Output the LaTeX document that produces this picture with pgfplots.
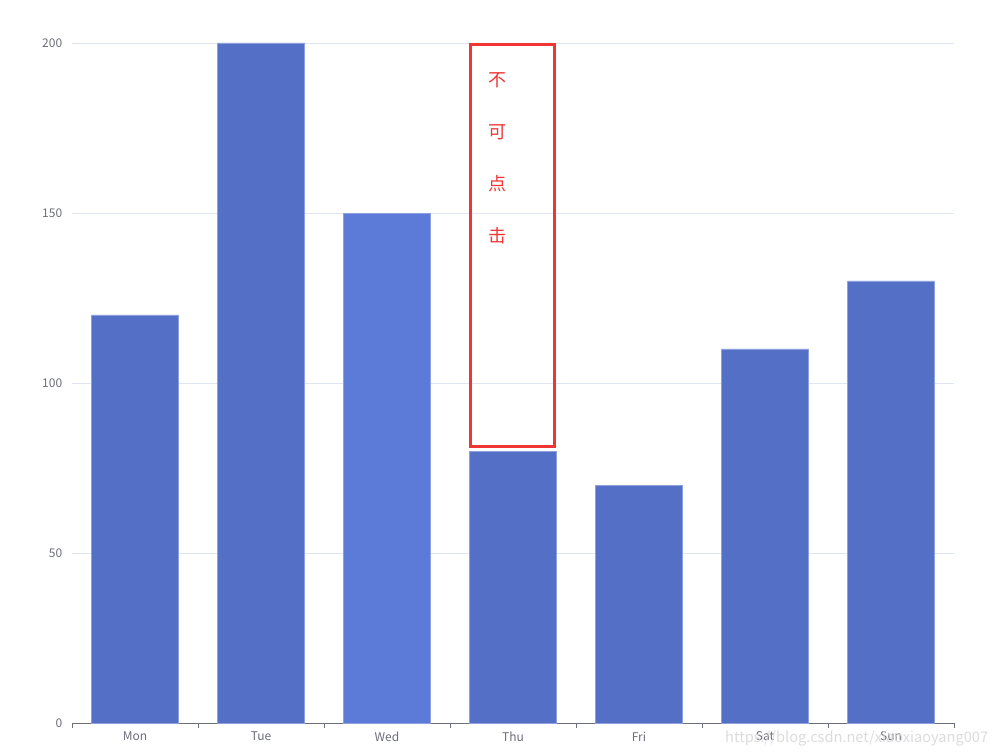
\documentclass[border=0pt]{standalone}
\usepackage{pgfplots}
\pgfplotsset{compat=1.18}
\usepackage{fontspec}
\setmainfont{Noto Sans CJK SC}
\definecolor{barc}{HTML}{5470C6}
\definecolor{barw}{HTML}{5C7AD7}
\definecolor{baredge}{HTML}{8EA0E0}
\definecolor{gridc}{HTML}{E0E6F1}
\definecolor{labc}{HTML}{6E7079}
\definecolor{boxred}{HTML}{F03535}
\begin{document}
\begin{tikzpicture}[x=1pt,y=1pt]
\path[use as bounding box, fill=white] (0,0) rectangle (1001,753);
\begin{axis}[
  at={(72pt,30pt)}, anchor=south west,
  scale only axis, width=882pt, height=680pt,
  xmin=-0.5, xmax=6.5, ymin=0, ymax=200,
  ytick={0,50,100,150,200},
  xtick={0,...,6},
  xticklabels={Mon,Tue,Wed,Thu,Fri,Sat,Sun},
  minor xtick={-0.5,0.5,...,6.5},
  major x tick style={draw=none},
  minor x tick style={draw=labc, line width=0.8pt},
  minor tick length=5pt,
  tick align=outside,
  axis x line*=bottom, axis y line*=left,
  x axis line style={draw=labc, line width=0.8pt},
  y axis line style={draw=none},
  major y tick style={draw=none},
  ymajorgrids, major grid style={draw=gridc, line width=0.8pt},
  /pgf/number format/assume math mode=true,
  tick label style={font=\fontsize{12}{12}\selectfont, text=labc},
  xticklabel style={yshift=-1pt},
  yticklabel style={xshift=-2pt},
  ybar, bar shift=0pt, bar width=87pt,
  clip=false,
]
\addplot[fill=barc, draw=baredge, line width=0.6pt] coordinates {(0,120) (1,200) (3,80) (4,70) (5,110) (6,130)};
\addplot[fill=barw, draw=baredge, line width=0.6pt] coordinates {(2,150)};
\draw[boxred, line width=3pt] (axis cs:2.659,199.7) rectangle (axis cs:3.333,81.2);
\node[text=boxred, font=\fontsize{18}{18}\selectfont] at (axis cs:2.873,189.1) {不};
\node[text=boxred, font=\fontsize{18}{18}\selectfont] at (axis cs:2.873,173.8) {可};
\node[text=boxred, font=\fontsize{18}{18}\selectfont] at (axis cs:2.873,158.5) {点};
\node[text=boxred, font=\fontsize{18}{18}\selectfont] at (axis cs:2.873,143.2) {击};
\end{axis}
\node[anchor=base west, inner sep=0pt, text=black!16, opacity=0.85, font=\fontsize{14.6}{15}\selectfont] at (725,11) {https://blog.csdn.net/xiaoxiaoyang007};
\end{tikzpicture}
\end{document}
